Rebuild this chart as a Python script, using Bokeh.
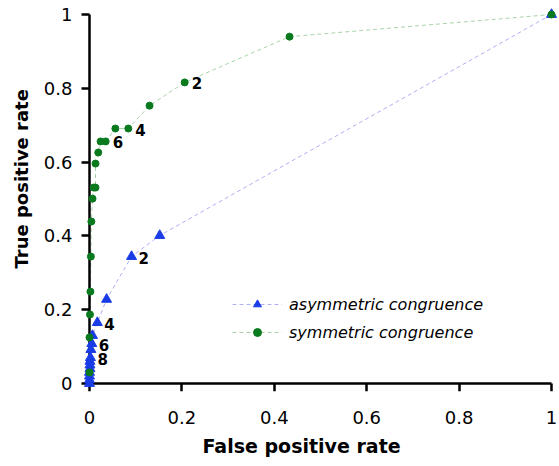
from bokeh.plotting import figure
from bokeh.models import Range1d, FixedTicker, Legend, LegendItem, Title, LinearAxis, ColumnDataSource
from bokeh.core.properties import value
from bokeh.embed import file_html
from bokeh.resources import INLINE

# ---- data ----
asym_fpr = [1.0, 0.152, 0.091, 0.037, 0.017, 0.0065, 0.005, 0.003, 0.002, 0.001, 0.001, 0.001, 0.0, 0.0, 0.0, 0.0]
asym_tpr = [1.0, 0.401, 0.344, 0.228, 0.165, 0.130, 0.108, 0.092, 0.070, 0.060, 0.050, 0.040, 0.030, 0.020, 0.010, 0.0]

sym_fpr = [1.0, 0.433, 0.206, 0.130, 0.084, 0.056, 0.035, 0.024, 0.019, 0.013, 0.013, 0.009, 0.0065, 0.004, 0.003, 0.002, 0.001, 0.0, 0.0]
sym_tpr = [1.0, 0.940, 0.816, 0.753, 0.691, 0.691, 0.656, 0.656, 0.626, 0.596, 0.531, 0.531, 0.501, 0.439, 0.344, 0.249, 0.187, 0.125, 0.030]

asym_label_idx = [2, 4, 6, 8]
asym_label_txt = ["2", "4", "6", "8"]
sym_label_idx = [2, 4, 6]
sym_label_txt = ["2", "4", "6"]

tick_values = [0, 0.2, 0.4, 0.6, 0.8, 1]
tick_labels = ["0", "0.2", "0.4", "0.6", "0.8", "1"]

x_label = "False positive rate"
y_label = "True positive rate"
series_names = ["asymmetric congruence", "symmetric congruence"]

FONT = "DejaVu Sans"
BLUE = "#1a3ce6"
GREEN = "#0a7a1e"
BLUE_LINE = "#b0b0f5"
GREEN_LINE = "#a8d3a8"

p = figure(
    output_backend="svg", toolbar_location=None,
    frame_width=478, frame_height=383,
    min_border_left=80, min_border_right=0, min_border_top=8, min_border_bottom=67,
    x_range=Range1d(-0.01948, 1.01515), y_range=Range1d(-0.02168, 1.01626),
)
p.outline_line_color = None
p.xgrid.visible = False
p.ygrid.visible = False
p.background_fill_color = "white"
p.border_fill_color = "white"

overrides = {v: t for v, t in zip(tick_values, tick_labels)}

# standard axes at the frame edge: tick labels only
for ax in (p.xaxis[0], p.yaxis[0]):
    ax.ticker = FixedTicker(ticks=tick_values)
    ax.major_label_overrides = overrides
    ax.axis_line_color = None
    ax.major_tick_line_color = None
    ax.minor_tick_line_color = None
    ax.major_tick_in = 0
    ax.major_tick_out = 0
    ax.minor_tick_out = 0
    ax.minor_tick_in = 0
    ax.major_label_text_font = FONT
    ax.major_label_text_font_size = "18px"
    ax.major_label_text_color = "black"
p.xaxis.major_label_standoff = 19
p.yaxis.major_label_standoff = 8

# axis lines and ticks drawn at data zero
for side in ("below", "left"):
    ax = LinearAxis(fixed_location=0, bounds=(0, 1), ticker=FixedTicker(ticks=tick_values),
                    axis_line_width=2.5, axis_line_color="black",
                    major_tick_line_width=2.5, major_tick_line_color="black",
                    major_tick_in=0, major_tick_out=8, minor_tick_line_color=None,
                    minor_tick_in=0, minor_tick_out=0,
                    major_label_text_font_size="0px", major_label_standoff=0,
                    major_label_text_alpha=0)
    p.add_layout(ax, side)

# series
bl = p.line(asym_fpr, asym_tpr, line_color=BLUE_LINE, line_width=1, line_dash="4 3")
bs = p.scatter(asym_fpr, asym_tpr, marker="triangle", size=10, fill_color=BLUE, line_color=BLUE, level="overlay")
gl = p.line(sym_fpr, sym_tpr, line_color=GREEN_LINE, line_width=1, line_dash="4 3")
gs = p.scatter(sym_fpr, sym_tpr, marker="circle", size=7, fill_color=GREEN, line_color=GREEN, level="overlay")

# point labels
src_a = ColumnDataSource(dict(x=[asym_fpr[i] for i in asym_label_idx], y=[asym_tpr[i] for i in asym_label_idx], t=asym_label_txt))
src_s = ColumnDataSource(dict(x=[sym_fpr[i] for i in sym_label_idx], y=[sym_tpr[i] for i in sym_label_idx], t=sym_label_txt))
for src in (src_a, src_s):
    p.text(x="x", y="y", text="t", source=src, x_offset=7, y_offset=1,
           text_font=value(FONT), text_font_size="15px", text_font_style="bold",
           text_color="black", text_align="left", text_baseline="middle", level="overlay")

legend = Legend(
    items=[LegendItem(label=series_names[0], renderers=[bl, bs]),
           LegendItem(label=series_names[1], renderers=[gl, gs])],
    location=(152, 49), orientation="vertical",
    glyph_width=50, glyph_height=20, label_height=20, spacing=8, label_standoff=7,
    padding=0, margin=0, border_line_color=None, background_fill_alpha=0,
    label_text_font=FONT, label_text_font_size="16px", label_text_font_style="italic",
    label_text_color="black",
)
p.add_layout(legend, "center")

p.add_layout(Title(text=x_label, align="left", offset=122, standoff=12,
                   text_font=FONT, text_font_size="19px", text_font_style="bold",
                   text_color="black"), "below")
p.add_layout(Title(text=y_label, align="left", offset=123, standoff=17,
                   text_font=FONT, text_font_size="18px", text_font_style="bold",
                   text_color="black"), "left")

open("out.html", "w").write(file_html(p, INLINE))
